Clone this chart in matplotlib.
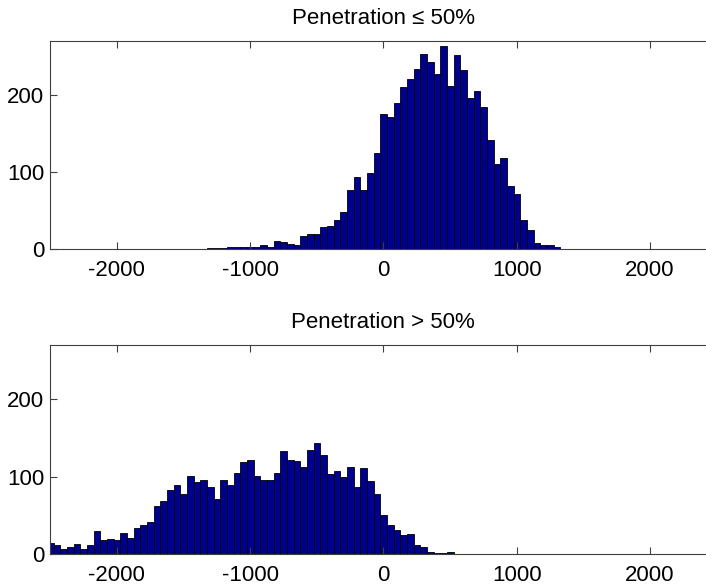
import numpy as np
import matplotlib
matplotlib.use("Agg")
import matplotlib.pyplot as plt

plt.rcParams['font.family'] = ['Liberation Sans', 'DejaVu Sans']
plt.rcParams['axes.unicode_minus'] = False

# Bin layout shared by both histograms (bin width 50, left edges)
bin_width = 50

# Top panel: Penetration <= 50% ; counts per bin starting at top_first_edge
top_first_edge = -1322
top_counts = [1, 1, 1, 2, 2,
              3, 2, 3, 5, 3, 10, 9, 7, 5, 17, 19, 19, 29, 30,
              37, 48, 77, 93, 77, 99, 125, 175, 171, 189, 210, 221, 234,
              253, 243, 227, 263, 211, 252, 232, 196, 205, 184, 142,
              110, 118, 82, 71, 38, 25, 8, 5, 5, 2]

# Bottom panel: Penetration > 50% ; counts per bin starting at bottom_first_edge
bottom_first_edge = -2522
bottom_counts = [14, 12, 7, 9, 13, 7, 12, 30, 18, 19, 18, 27, 21, 34, 38, 41,
                 62, 68, 83, 89, 77, 101, 93, 96, 87, 71, 95, 89, 105, 119,
                 121, 101, 96, 96, 104, 133, 122, 120, 112, 134, 143, 128,
                 103, 107, 100, 112, 86, 111, 94, 77, 51, 37, 31, 24, 26,
                 12, 9, 3, 1, 1, 3]

titles = ["Penetration \u2264 50%", "Penetration > 50%"]
xlim = (-2500, 2500)
ylim = (0, 270)
xticks = [-2000, -1000, 0, 1000, 2000]
yticks = [0, 100, 200]

fig = plt.figure(figsize=(7.06, 5.88), dpi=100)
W, H = 706, 588
ax_top = fig.add_axes([50 / W, (H - 249) / H, 666.7 / W, 208 / H])
ax_bot = fig.add_axes([50 / W, (H - 554) / H, 666.7 / W, 209 / H])

bar_color = (0, 0, 0.5625)
spine_color = '#404040'

for ax, first, counts, title in [(ax_top, top_first_edge, top_counts, titles[0]),
                                 (ax_bot, bottom_first_edge, bottom_counts, titles[1])]:
    lefts = first + bin_width * np.arange(len(counts))
    ax.bar(lefts, counts, width=bin_width, align='edge', color=bar_color,
           edgecolor='black', linewidth=0.6)
    ax.set_xlim(*xlim)
    ax.set_ylim(*ylim)
    ax.set_xticks(xticks)
    ax.set_yticks(yticks)
    ax.tick_params(direction='in', length=5, width=0.8, colors=spine_color,
                   labelcolor='black', labelsize=16, top=True, right=True)
    ax.tick_params(axis='x', pad=8)
    ax.tick_params(axis='y', pad=4)
    for s in ax.spines.values():
        s.set_color(spine_color)
        s.set_linewidth(0.8)
    ax.set_title(title, fontsize=16, pad=12)

fig.savefig("out.png", dpi=100)
